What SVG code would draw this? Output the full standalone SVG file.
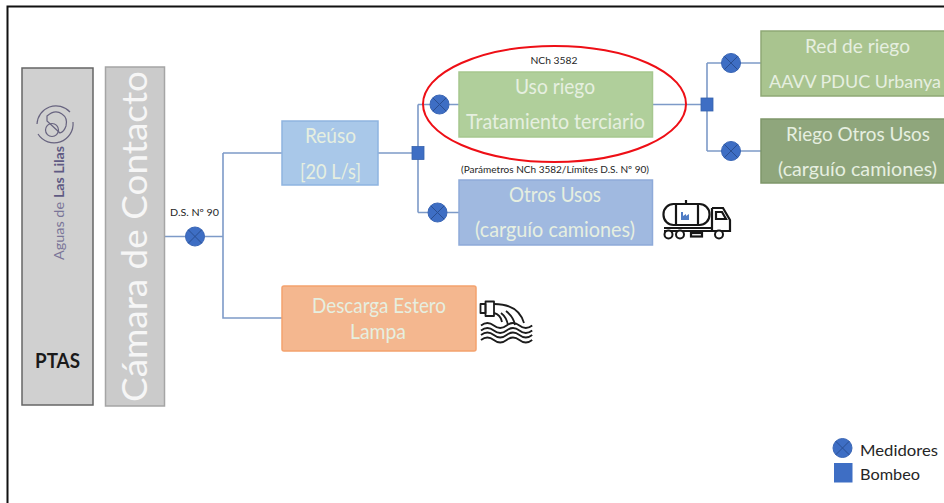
<svg xmlns="http://www.w3.org/2000/svg" width="944" height="503" viewBox="0 0 944 503">
<style>
.t{font-family:"Lato","Open Sans","Liberation Sans",sans-serif}
.w{font-size:21px;fill:#e6efe0}
.s{font-size:10px;fill:#262626}
.c{fill:none;stroke:#7d9ac8;stroke-width:1.6}
.i{fill:none;stroke:#161616;stroke-width:2.200}
.x{fill:none;stroke:#1c1c1c;stroke-width:1.800;stroke-linejoin:round}
</style>
<defs>
<g id="meter"><circle r="9.500" fill="#3e6ec4" stroke="#3a66b5"/><path d="M-6.700-6.700L6.700 6.700M-6.700 6.700L6.700-6.700" stroke="#2a4f92" stroke-width="1"/></g>
<rect id="pump" x="-6" y="-6.500" width="12" height="13" fill="#3e6ec4" stroke="#3662ad" stroke-width=".8"/>
<path id="wave" d="M481 0q6.400-5 12.800 0t12.800 0t12.800 0t12.800 0" class="x"/>
</defs>
<rect width="944" height="503" fill="#fff"/>
<path id="frame" d="M7.500 503V6.500H944" fill="none" stroke="#111" stroke-width="2"/>

<g id="connectors">
<path class="c" d="M164 236.500H223M223 153V318H282M223 153H282"/>
<path class="c" d="M378 153H418M418 104.500V212.500M418 104.500H459M418 212.500H459"/>
<path class="c" d="M652 104.500H707M707 63V151M707 63H761M707 151H761"/>
</g>

<g id="ptas">
<rect x="22" y="68" width="71" height="337" fill="#d0d0d0" stroke="#666" stroke-width="1.500"/>
<text class="t" x="57.500" y="368" text-anchor="middle" font-size="20" font-weight="700" fill="#1a1a1a" textLength="45" lengthAdjust="spacingAndGlyphs">PTAS</text>
<text class="t" transform="translate(64 260) rotate(-90)" font-size="14" fill="#7a7598" textLength="58" lengthAdjust="spacingAndGlyphs">Aguas de</text>
<text class="t" transform="translate(64 198) rotate(-90)" font-size="14" font-weight="700" fill="#5f5a83" textLength="52" lengthAdjust="spacingAndGlyphs">Las Lilas</text>
<g fill="none" stroke="#67637f" stroke-width="1.200">
<path d="M70 112A19 19 0 0 0 37 124"/><path d="M38 134A19 19 0 0 0 73 122"/>
<path d="M47 116q8-7 15-2q6 4 4 12q-2 6-6 7l-13-12z"/>
<circle cx="52" cy="130" r="6.500"/>
</g>
</g>

<g id="camara">
<rect x="105.500" y="67" width="59" height="339" fill="#cbcbcb" stroke="#a5a5a5" stroke-width="1.500"/>
<text class="t" transform="translate(146.500 402) rotate(-90)" font-size="34" fill="#f6f6f6" textLength="331" lengthAdjust="spacingAndGlyphs">Cámara de Contacto</text>
</g>

<g id="medidor-ds90">
<use href="#meter" x="195" y="236.500"/>
<text class="t s" x="170" y="216" textLength="49" lengthAdjust="spacingAndGlyphs">D.S. Nº 90</text>
</g>

<g id="reuso">
<rect x="282" y="121" width="96" height="64" fill="#a9c8e9" stroke="#8eb4e0" stroke-width="1.500"/>
<text class="t w" x="305" y="143" textLength="51" lengthAdjust="spacingAndGlyphs">Reúso</text>
<text class="t w" x="300" y="179" textLength="61" lengthAdjust="spacingAndGlyphs">[20 L/s]</text>
</g>

<use id="bombeo-1" href="#pump" x="418" y="153"/>
<use id="medidor-1" href="#meter" x="439.500" y="104.500"/>
<use id="medidor-2" href="#meter" x="437.500" y="212.500"/>

<g id="uso-riego">
<rect x="459" y="72" width="193.500" height="65" fill="#b0cf9b" stroke="#a6c78f" stroke-width="1.500"/>
<text class="t w" x="515" y="94" textLength="80" lengthAdjust="spacingAndGlyphs">Uso riego</text>
<text class="t w" x="466" y="129" textLength="179" lengthAdjust="spacingAndGlyphs">Tratamiento terciario</text>
<text class="t s" x="554" y="64" text-anchor="middle" textLength="47" lengthAdjust="spacingAndGlyphs">NCh 3582</text>
</g>

<g id="otros-usos">
<rect x="459" y="180" width="193.500" height="65" fill="#a0b9e0" stroke="#8eaad9" stroke-width="1.500"/>
<text class="t w" x="509" y="202" textLength="92" lengthAdjust="spacingAndGlyphs">Otros Usos</text>
<text class="t w" x="475" y="237" textLength="160" lengthAdjust="spacingAndGlyphs">(carguío camiones)</text>
<text class="t s" x="461" y="173" textLength="188" lengthAdjust="spacingAndGlyphs">(Parámetros NCh 3582/Límites D.S. Nº 90)</text>
</g>

<g id="camion">
<rect x="663.500" y="204" width="46" height="21" rx="10" class="i"/>
<path class="i" d="M686 204v-4M676 204v21M698 204v21M664 228H712M712 208h11l7 12v12M712 208v24M716 212h6l4 7h-10z"/>
<path d="M664 231H730" class="i" stroke-width="1.500"/>
<circle cx="668.500" cy="234.500" r="4" fill="#fff" stroke="#161616" stroke-width="2"/>
<circle cx="680" cy="234.500" r="4" fill="#fff" stroke="#161616" stroke-width="2"/>
<circle cx="719" cy="234.500" r="4" fill="#fff" stroke="#161616" stroke-width="2"/>
<rect x="691" y="233" width="11" height="3.500" class="i"/>
<path d="M681 220v-8h2v4l3-2v2l3-2v6z" fill="#4f7cc4"/>
</g>

<use id="bombeo-2" href="#pump" x="707" y="104.500"/>
<use id="medidor-3" href="#meter" x="731" y="63"/>
<use id="medidor-4" href="#meter" x="731" y="151"/>

<g id="red-riego">
<rect x="761" y="31" width="183" height="65" fill="#a9c48f"/>
<path d="M944 31H761V96H944" fill="none" stroke="#8ea875" stroke-width="1.500"/>
<text class="t w" x="805" y="53" style="font-size:19px" textLength="105" lengthAdjust="spacingAndGlyphs">Red de riego</text>
<text class="t w" x="769" y="88" style="font-size:18px" textLength="172" lengthAdjust="spacingAndGlyphs">AAVV PDUC Urbanya</text>
</g>

<g id="riego-otros">
<rect x="761" y="119" width="183" height="64" fill="#8fa67c"/>
<path d="M944 119H761V183H944" fill="none" stroke="#7f9669" stroke-width="1.500"/>
<text class="t w" x="786" y="141" style="font-size:18.500px" textLength="144" lengthAdjust="spacingAndGlyphs">Riego Otros Usos</text>
<text class="t w" x="778" y="176" style="font-size:19.500px" textLength="159" lengthAdjust="spacingAndGlyphs">(carguío camiones)</text>
</g>

<g id="descarga">
<rect x="282" y="286" width="194" height="65" rx="2" fill="#f4b78f" stroke="#f4a26e" stroke-width="1.500"/>
<text class="t w" x="312" y="313" fill="#fbe7da" textLength="134" lengthAdjust="spacingAndGlyphs">Descarga Estero</text>
<text class="t w" x="350" y="339" fill="#fbe7da" textLength="56" lengthAdjust="spacingAndGlyphs">Lampa</text>
</g>

<g id="descarga-icono">
<rect x="480.500" y="304" width="5" height="9" class="x"/>
<rect x="485.500" y="301.500" width="8.500" height="14.500" class="x"/>
<path class="x" d="M494 304C510 304 520 310 524 323M494 313C499 314 501 317 502 322M506 311C511 315 514 319 515 325M501 313C505 316 507 320 508 325"/>
<use href="#wave" y="325.500"/><use href="#wave" y="330.500"/>
<use href="#wave" y="335"/><use href="#wave" y="340"/>
</g>

<ellipse id="resalte" cx="554.500" cy="104" rx="131.500" ry="58" fill="none" stroke="#ee0f16" stroke-width="2"/>

<g id="leyenda">
<use href="#meter" x="842.500" y="448"/>
<rect x="834" y="463" width="18.500" height="19.500" fill="#3e6ec4"/>
<text class="t" x="860" y="456" font-size="16" fill="#262626" textLength="78" lengthAdjust="spacingAndGlyphs">Medidores</text>
<text class="t" x="860" y="480" font-size="16" fill="#262626" textLength="60" lengthAdjust="spacingAndGlyphs">Bombeo</text>
</g>
</svg>
